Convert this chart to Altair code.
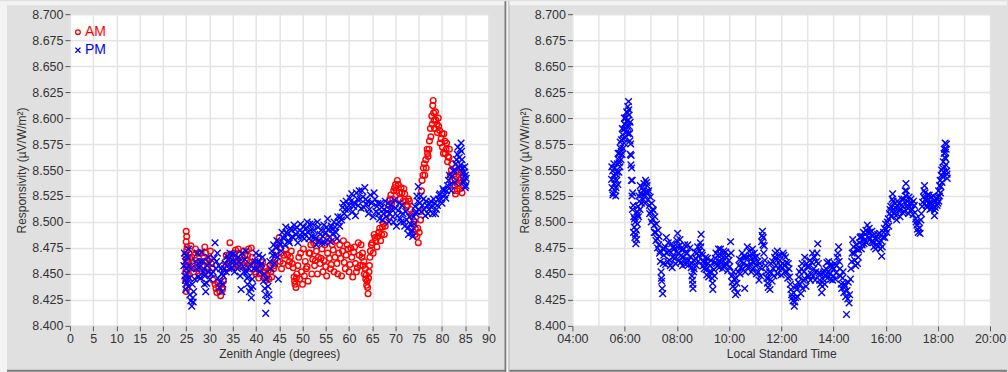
import altair as alt
import pandas as pd

# ---------------- data ----------------
# Right panel: local standard time (hours) vs responsivity
lst_hours = [
    5.50, 5.52, 5.54, 5.56, 5.58, 5.60, 5.62, 5.64, 5.66, 5.68,
    5.70, 5.72, 5.74, 5.76, 5.78, 5.80, 5.82, 5.84, 5.86, 5.88,
    5.90, 5.92, 5.94, 5.96, 5.98, 6.00, 6.02, 6.04, 6.06, 6.08,
    6.10, 6.12, 6.14, 6.15, 6.17, 6.19, 6.21, 6.23, 6.25, 6.27,
    6.29, 6.31, 6.33, 6.35, 6.37, 6.39, 6.41, 6.43, 6.45, 6.47,
    6.49, 6.51, 6.53, 6.56, 6.59, 6.62, 6.65, 6.68, 6.71, 6.74,
    6.77, 6.80, 6.83, 6.86, 6.89, 6.92, 6.95, 6.98, 7.01, 7.04,
    7.07, 7.10, 7.13, 7.16, 7.19, 7.22, 7.25, 7.28, 7.31, 7.34,
    7.37, 7.40, 7.42, 7.44, 7.46,
    7.50, 7.55, 7.60, 7.65, 7.70, 7.75, 7.80, 7.85, 7.90, 7.95,
    8.00, 8.03, 8.06, 8.10, 8.15, 8.20, 8.25, 8.30, 8.35, 8.40,
    8.45, 8.50, 8.55, 8.58, 8.61, 8.64, 8.67, 8.70, 8.75, 8.80,
    8.85, 8.90, 8.93, 8.96, 9.00, 9.05, 9.10, 9.15, 9.20, 9.25,
    9.30, 9.35, 9.38, 9.42, 9.46, 9.50, 9.55, 9.60, 9.65, 9.70,
    9.75, 9.80, 9.85, 9.90, 9.95, 10.00, 10.06, 10.10, 10.15, 10.20,
    10.25, 10.30, 10.35, 10.40, 10.45, 10.50, 10.55, 10.60, 10.65, 10.70,
    10.75, 10.80, 10.85, 10.90, 10.95, 11.00, 11.05, 11.10, 11.15, 11.20,
    11.25, 11.28, 11.31, 11.35, 11.40, 11.45, 11.50, 11.55, 11.60, 11.65,
    11.70, 11.75, 11.80, 11.85, 11.90, 11.95, 12.00, 12.05, 12.10, 12.15,
    12.20, 12.25, 12.30, 12.35, 12.40, 12.45, 12.50, 12.55, 12.60, 12.65,
    12.70, 12.75, 12.80, 12.85, 12.90, 12.95, 13.00, 13.05, 13.10, 13.15,
    13.20, 13.25, 13.30, 13.35, 13.40, 13.45, 13.50, 13.55, 13.60, 13.65,
    13.70, 13.75, 13.80, 13.85, 13.90, 13.95, 14.00, 14.05, 14.10, 14.15,
    14.20, 14.25, 14.30, 14.35, 14.40, 14.45, 14.50, 14.55, 14.60, 14.65,
    14.70, 14.74, 14.80, 14.85, 14.90, 14.95, 15.00, 15.05, 15.10, 15.15,
    15.20, 15.25, 15.30, 15.35, 15.40, 15.45, 15.50, 15.55, 15.60, 15.65,
    15.70, 15.75, 15.80, 15.85, 15.90, 15.95, 16.00, 16.05, 16.10, 16.15,
    16.20, 16.25, 16.27, 16.30, 16.35, 16.40, 16.45, 16.50, 16.55, 16.60,
    16.65, 16.70, 16.75, 16.78, 16.82, 16.86, 16.90, 16.95, 17.00, 17.05,
    17.10, 17.15, 17.20, 17.25, 17.30, 17.35, 17.40, 17.45, 17.49, 17.53,
    17.57, 17.61, 17.65, 17.70, 17.75, 17.80, 17.85, 17.87, 17.90, 17.95,
    18.00, 18.03, 18.06, 18.09, 18.12, 18.15, 18.18, 18.21, 18.24, 18.26,
    18.28, 18.30, 18.32, 18.34, 18.36,
]
lst_resp = [
    8.541, 8.533, 8.549, 8.528, 8.545, 8.537, 8.552, 8.530, 8.525, 8.546,
    8.540, 8.556, 8.536, 8.560, 8.548, 8.566, 8.553, 8.571, 8.560, 8.579,
    8.565, 8.584, 8.571, 8.589, 8.576, 8.594, 8.581, 8.600, 8.586, 8.606,
    8.592, 8.611, 8.598, 8.616, 8.603, 8.585, 8.596, 8.575, 8.564, 8.552,
    8.540, 8.528, 8.516, 8.505, 8.495, 8.485, 8.500, 8.479, 8.492, 8.510,
    8.498, 8.515, 8.505, 8.520, 8.512, 8.528, 8.518, 8.533, 8.522, 8.537,
    8.526, 8.540, 8.529, 8.535, 8.521, 8.530, 8.516, 8.524, 8.510, 8.518,
    8.503, 8.511, 8.497, 8.505, 8.490, 8.498, 8.484, 8.492, 8.478, 8.470,
    8.462, 8.452, 8.443, 8.436, 8.431,
    8.468, 8.476, 8.485, 8.462, 8.472, 8.458, 8.479, 8.466, 8.474, 8.460,
    8.482, 8.489, 8.470, 8.477, 8.461, 8.473, 8.466, 8.478, 8.459, 8.470,
    8.463, 8.475, 8.456, 8.448, 8.440, 8.452, 8.463, 8.471, 8.458, 8.476,
    8.467, 8.480, 8.488, 8.470, 8.462, 8.455, 8.466, 8.449, 8.460, 8.452,
    8.463, 8.446, 8.435, 8.454, 8.461, 8.470, 8.458, 8.474, 8.462, 8.468,
    8.455, 8.472, 8.460, 8.466, 8.453, 8.463, 8.481, 8.448, 8.438, 8.445,
    8.430, 8.441, 8.452, 8.464, 8.456, 8.470, 8.460, 8.436, 8.466, 8.476,
    8.457, 8.468, 8.452, 8.474, 8.461, 8.466, 8.450, 8.462, 8.444, 8.456,
    8.481, 8.491, 8.485, 8.477, 8.458, 8.446, 8.437, 8.452, 8.460, 8.443,
    8.455, 8.466, 8.458, 8.472, 8.455, 8.463, 8.449, 8.460, 8.468, 8.452,
    8.461, 8.446, 8.455, 8.440, 8.430, 8.424, 8.419, 8.427, 8.435, 8.442,
    8.452, 8.431, 8.460, 8.444, 8.466, 8.438, 8.457, 8.447, 8.463, 8.450,
    8.470, 8.455, 8.444, 8.462, 8.479, 8.451, 8.440, 8.432, 8.445, 8.453,
    8.448, 8.461, 8.452, 8.458, 8.445, 8.456, 8.448, 8.460, 8.451, 8.466,
    8.476, 8.455, 8.440, 8.446, 8.432, 8.438, 8.411, 8.426, 8.422, 8.445,
    8.462, 8.483, 8.470, 8.458, 8.474, 8.466, 8.480, 8.486, 8.478, 8.490,
    8.483, 8.492, 8.497, 8.485, 8.490, 8.481, 8.487, 8.476, 8.484, 8.478,
    8.488, 8.480, 8.474, 8.467, 8.485, 8.494, 8.498, 8.490, 8.503, 8.508,
    8.515, 8.522, 8.527, 8.512, 8.518, 8.506, 8.520, 8.511, 8.505, 8.516,
    8.509, 8.522, 8.530, 8.537, 8.520, 8.513, 8.524, 8.511, 8.518, 8.507,
    8.516, 8.503, 8.497, 8.490, 8.494, 8.502, 8.515, 8.524, 8.535, 8.522,
    8.516, 8.526, 8.518, 8.512, 8.524, 8.516, 8.520, 8.506, 8.514, 8.523,
    8.518, 8.530, 8.525, 8.540, 8.534, 8.550, 8.544, 8.558, 8.566, 8.553,
    8.576, 8.561, 8.570, 8.549, 8.542,
]
# second pass of readings in between the first ones
lst_hours_b = [
    5.51, 5.55, 5.59, 5.63, 5.67, 5.71, 5.75, 5.79, 5.83, 5.87,
    5.91, 5.95, 5.99, 6.03, 6.07, 6.11, 6.13, 6.16, 6.18, 6.20,
    6.22, 6.24, 6.26, 6.28, 6.30, 6.34, 6.38, 6.42, 6.46, 6.50,
    6.55, 6.60, 6.66, 6.72, 6.78, 6.84, 6.90, 6.96, 7.02, 7.08,
    7.14, 7.20, 7.26, 7.32, 7.36, 7.41, 7.48,
    7.52, 7.57, 7.62, 7.67, 7.72, 7.77, 7.82, 7.87, 7.92, 7.97,
    8.02, 8.08, 8.12, 8.17, 8.22, 8.27, 8.32, 8.37, 8.42, 8.47,
    8.52, 8.57, 8.60, 8.62, 8.66, 8.72, 8.77, 8.82, 8.87, 8.92,
    8.98, 9.02, 9.07, 9.12, 9.17, 9.22, 9.27, 9.32, 9.37, 9.44,
    9.48, 9.52, 9.57, 9.62, 9.67, 9.72, 9.77, 9.82, 9.87, 9.92,
    9.97, 10.03, 10.08, 10.12, 10.17, 10.22, 10.27, 10.32, 10.38, 10.42,
    10.47, 10.52, 10.57, 10.62, 10.67, 10.72, 10.77, 10.82, 10.87, 10.92,
    10.97, 11.02, 11.07, 11.12, 11.17, 11.22, 11.27, 11.30, 11.33, 11.37,
    11.42, 11.47, 11.52, 11.57, 11.62, 11.67, 11.72, 11.77, 11.82, 11.87,
    11.92, 11.97, 12.02, 12.07, 12.12, 12.17, 12.22, 12.27, 12.32, 12.37,
    12.42, 12.47, 12.52, 12.57, 12.62, 12.67, 12.72, 12.77, 12.82, 12.87,
    12.92, 12.97, 13.02, 13.07, 13.12, 13.17, 13.22, 13.27, 13.32, 13.37,
    13.42, 13.47, 13.52, 13.57, 13.62, 13.67, 13.72, 13.77, 13.82, 13.87,
    13.92, 13.97, 14.02, 14.07, 14.12, 14.17, 14.22, 14.27, 14.32, 14.37,
    14.42, 14.47, 14.52, 14.57, 14.62, 14.67, 14.72, 14.77, 14.82, 14.87,
    14.92, 14.97, 15.02, 15.07, 15.12, 15.17, 15.22, 15.27, 15.32, 15.37,
    15.42, 15.47, 15.52, 15.57, 15.62, 15.67, 15.72, 15.77, 15.82, 15.87,
    15.92, 15.97, 16.02, 16.07, 16.12, 16.17, 16.22, 16.29, 16.32, 16.37,
    16.42, 16.47, 16.52, 16.57, 16.62, 16.67, 16.72, 16.77, 16.80, 16.84,
    16.88, 16.92, 16.97, 17.02, 17.07, 17.12, 17.17, 17.22, 17.27, 17.32,
    17.37, 17.42, 17.47, 17.51, 17.55, 17.59, 17.63, 17.67, 17.72, 17.77,
    17.82, 17.88, 17.92, 17.97, 18.01, 18.04, 18.07, 18.10, 18.13, 18.16,
    18.19, 18.22, 18.25, 18.27, 18.29, 18.31, 18.33, 18.35,
]
lst_resp_b = [
    8.553, 8.526, 8.556, 8.541, 8.533, 8.548, 8.566, 8.557, 8.577, 8.568,
    8.590, 8.580, 8.600, 8.590, 8.597, 8.605, 8.585, 8.608, 8.592, 8.578,
    8.565, 8.555, 8.540, 8.525, 8.512, 8.490, 8.503, 8.488, 8.483, 8.507,
    8.525, 8.535, 8.526, 8.530, 8.518, 8.538, 8.528, 8.508, 8.500, 8.512,
    8.490, 8.482, 8.475, 8.486, 8.472, 8.446, 8.460,
    8.474, 8.459, 8.470, 8.480, 8.463, 8.471, 8.456, 8.476, 8.465, 8.471,
    8.476, 8.463, 8.483, 8.468, 8.458, 8.474, 8.463, 8.470, 8.478, 8.459,
    8.466, 8.460, 8.444, 8.436, 8.455, 8.465, 8.470, 8.462, 8.472, 8.476,
    8.468, 8.458, 8.461, 8.454, 8.465, 8.447, 8.458, 8.452, 8.441, 8.448,
    8.465, 8.460, 8.468, 8.456, 8.474, 8.461, 8.466, 8.458, 8.471, 8.459,
    8.468, 8.457, 8.470, 8.442, 8.452, 8.436, 8.446, 8.432, 8.458, 8.450,
    8.463, 8.455, 8.467, 8.452, 8.458, 8.466, 8.472, 8.460, 8.465, 8.455,
    8.470, 8.458, 8.467, 8.452, 8.460, 8.448, 8.487, 8.478, 8.470, 8.463,
    8.452, 8.441, 8.446, 8.435, 8.451, 8.462, 8.448, 8.470, 8.463, 8.450,
    8.468, 8.458, 8.455, 8.470, 8.458, 8.466, 8.452, 8.460, 8.447, 8.435,
    8.427, 8.432, 8.423, 8.438, 8.428, 8.447, 8.440, 8.455, 8.436, 8.452,
    8.445, 8.460, 8.449, 8.457, 8.444, 8.461, 8.448, 8.466, 8.452, 8.470,
    8.460, 8.444, 8.450, 8.438, 8.451, 8.440, 8.455, 8.446, 8.462, 8.450,
    8.458, 8.444, 8.455, 8.445, 8.458, 8.470, 8.462, 8.448, 8.436, 8.452,
    8.440, 8.428, 8.434, 8.442, 8.430, 8.455, 8.470, 8.476, 8.463, 8.478,
    8.460, 8.473, 8.485, 8.474, 8.486, 8.479, 8.488, 8.480, 8.490, 8.494,
    8.484, 8.491, 8.480, 8.488, 8.474, 8.483, 8.477, 8.489, 8.482, 8.476,
    8.490, 8.485, 8.493, 8.500, 8.496, 8.512, 8.505, 8.520, 8.509, 8.514,
    8.502, 8.515, 8.518, 8.512, 8.522, 8.515, 8.510, 8.525, 8.530, 8.516,
    8.508, 8.518, 8.522, 8.512, 8.520, 8.509, 8.500, 8.493, 8.500, 8.489,
    8.508, 8.519, 8.530, 8.528, 8.520, 8.514, 8.522, 8.526, 8.518, 8.513,
    8.525, 8.511, 8.520, 8.516, 8.524, 8.520, 8.535, 8.528, 8.545, 8.538,
    8.552, 8.548, 8.570, 8.562, 8.567, 8.555, 8.575, 8.546,
]

# Left panel, AM (red circles): zenith angle vs responsivity
am_zenith = [
    25.0, 25.1, 25.0, 25.2, 24.9, 25.1, 25.0, 25.3, 24.9, 25.2, 25.0, 25.5, 25.6,
    26.2, 26.6, 27.0, 27.4, 27.8, 28.2, 28.6, 29.0, 29.4, 29.8, 30.2, 30.6,
    31.2, 31.6, 32.0, 32.4, 32.8, 33.0,
    33.4, 33.8, 34.2, 34.4, 34.8,
    35.4, 35.8, 36.2, 36.6, 37.0, 37.4, 37.8, 38.2, 38.6, 39.0, 39.4,
    39.8, 40.2, 40.6, 41.0, 41.4, 41.8, 42.2, 42.6, 43.0, 43.4, 43.8,
    44.2, 44.6, 45.0, 45.4, 45.8, 45.5,
    46.8, 47.2, 47.6, 48.0, 48.2, 48.4, 48.6, 48.8, 49.2, 49.6,
    50.2, 50.6, 51.0, 51.4, 51.8, 52.2, 52.6, 53.0, 53.4, 53.8,
    54.2, 54.6, 55.0, 55.4, 55.8, 56.2, 56.6, 57.0, 57.4, 57.8,
    58.2, 58.6, 59.0, 59.4, 59.8, 60.2, 60.6, 61.0, 61.4, 61.8, 62.2,
    62.6, 62.9, 63.2, 63.5, 63.7, 63.9, 64.0, 64.1, 64.3, 64.5,
    64.8, 65.2, 65.6, 66.0, 66.4, 66.8, 67.2, 67.6, 68.0,
    68.4, 68.8, 69.2, 69.6, 70.0, 70.4, 70.8, 71.2, 71.6, 72.0, 72.4, 72.8, 73.2,
    73.6, 74.0, 74.3, 74.6, 74.9, 75.1, 75.4,
    75.7, 76.0, 76.3, 76.5, 76.8, 77.0, 77.3,
    77.5, 77.8, 78.0, 78.1, 78.3, 78.6, 78.9, 79.2, 79.5,
    79.8, 80.1, 80.4, 80.7, 81.0, 81.3, 81.6,
    82.0, 82.3, 82.6, 82.9, 83.2, 83.5, 83.8, 84.1, 84.4,
]
am_resp = [
    8.491, 8.486, 8.481, 8.476, 8.468, 8.462, 8.455, 8.449, 8.443, 8.437, 8.433, 8.458, 8.470,
    8.466, 8.452, 8.474, 8.460, 8.448, 8.470, 8.458, 8.476, 8.463, 8.450, 8.472, 8.456,
    8.440, 8.432, 8.437, 8.429, 8.435, 8.443,
    8.462, 8.455, 8.468, 8.480, 8.458,
    8.470, 8.462, 8.474, 8.458, 8.466, 8.472, 8.456, 8.468, 8.461, 8.475, 8.459,
    8.452, 8.460, 8.446, 8.455, 8.461, 8.448, 8.444, 8.453, 8.458, 8.447, 8.455,
    8.465, 8.478, 8.485, 8.470, 8.460, 8.455,
    8.468, 8.462, 8.472, 8.456, 8.447, 8.440, 8.437, 8.450, 8.466, 8.470,
    8.474, 8.462, 8.457, 8.470, 8.478, 8.464, 8.458, 8.472, 8.466, 8.460,
    8.474, 8.463, 8.457, 8.470, 8.465, 8.459, 8.473, 8.466, 8.460, 8.470,
    8.465, 8.472, 8.461, 8.468, 8.474, 8.459, 8.466, 8.471, 8.460, 8.456, 8.468,
    8.478, 8.470, 8.462, 8.455, 8.449, 8.443, 8.437, 8.431, 8.452, 8.466,
    8.478, 8.470, 8.485, 8.476, 8.490, 8.482, 8.495, 8.488, 8.502,
    8.512, 8.522, 8.518, 8.530, 8.536, 8.540, 8.528, 8.533, 8.520, 8.527, 8.515, 8.522, 8.512,
    8.508, 8.500, 8.493, 8.486, 8.480, 8.490, 8.502,
    8.540, 8.552, 8.545, 8.560, 8.570, 8.563, 8.578,
    8.590, 8.602, 8.612, 8.617, 8.598, 8.606, 8.594, 8.600, 8.588,
    8.580, 8.572, 8.585, 8.566, 8.576, 8.563, 8.570,
    8.550, 8.540, 8.546, 8.527, 8.537, 8.548, 8.532, 8.542, 8.535,
]
am_zenith_b = [
    25.1, 25.3, 25.4, 24.9, 26.0, 26.4, 26.8, 27.2, 27.6, 28.0,
    28.4, 28.8, 29.2, 29.6, 30.0, 30.4, 30.8, 31.4, 31.8, 32.2,
    32.6, 33.2, 33.6, 34.0, 34.6, 35.0, 35.2, 35.6, 36.0, 36.4,
    36.8, 37.2, 37.6, 38.0, 38.4, 38.8, 39.2, 39.6, 40.0, 40.4,
    40.8, 41.2, 41.6, 42.0, 42.4, 42.8, 43.2, 43.6, 44.0, 44.4,
    44.8, 45.2, 46.0, 46.4, 47.0, 47.4, 47.8, 48.3, 48.7, 49.0,
    49.4, 49.8, 50.0, 50.4, 50.8, 51.2, 51.6, 52.0, 52.4, 52.8,
    53.2, 53.6, 54.0, 54.4, 54.8, 55.2, 55.6, 56.0, 56.4, 56.8,
    57.2, 57.6, 58.0, 58.4, 58.8, 59.2, 59.6, 60.0, 60.4, 60.8,
    61.2, 61.6, 62.0, 62.4, 62.8, 63.0, 63.3, 63.6, 63.8, 64.2,
    64.4, 64.6, 65.0, 65.4, 65.8, 66.2, 66.6, 67.0, 67.4, 67.8,
    68.2, 68.6, 69.0, 69.4, 69.8, 70.2, 70.6, 71.0, 71.4, 71.8,
    72.2, 72.6, 73.0, 73.4, 73.8, 74.2, 74.8, 75.3, 75.6, 75.9,
    76.2, 76.6, 76.9, 77.2, 77.6, 77.9, 78.2, 78.4, 78.7, 79.0,
    79.3, 79.6, 80.0, 80.3, 80.6, 80.9, 81.2, 81.5, 81.8, 82.1,
    82.4, 82.8, 83.0, 83.3, 83.7, 84.0, 84.3, 84.6,
]
am_resp_b = [
    8.473, 8.445, 8.465, 8.452, 8.477, 8.460, 8.468, 8.455, 8.470, 8.462,
    8.452, 8.466, 8.470, 8.457, 8.465, 8.460, 8.444, 8.436, 8.442, 8.433,
    8.440, 8.452, 8.468, 8.460, 8.465, 8.457, 8.466, 8.473, 8.460, 8.468,
    8.463, 8.458, 8.468, 8.463, 8.474, 8.455, 8.466, 8.458, 8.450, 8.456,
    8.450, 8.458, 8.452, 8.456, 8.449, 8.445, 8.452, 8.460, 8.458, 8.472,
    8.480, 8.462, 8.468, 8.474, 8.458, 8.466, 8.460, 8.443, 8.446, 8.458,
    8.445, 8.452, 8.440, 8.448, 8.455, 8.443, 8.470, 8.450, 8.480, 8.463,
    8.450, 8.482, 8.465, 8.452, 8.478, 8.448, 8.484, 8.455, 8.478, 8.452,
    8.482, 8.450, 8.478, 8.448, 8.482, 8.455, 8.478, 8.452, 8.475, 8.447,
    8.476, 8.452, 8.480, 8.458, 8.466, 8.458, 8.450, 8.445, 8.439, 8.446,
    8.458, 8.472, 8.480, 8.488, 8.482, 8.486, 8.494, 8.488, 8.498, 8.496,
    8.508, 8.516, 8.526, 8.522, 8.533, 8.530, 8.536, 8.522, 8.528, 8.532,
    8.520, 8.516, 8.520, 8.506, 8.498, 8.488, 8.494, 8.510, 8.530, 8.545,
    8.556, 8.552, 8.566, 8.570, 8.582, 8.594, 8.605, 8.590, 8.598, 8.586,
    8.592, 8.576, 8.585, 8.566, 8.578, 8.570, 8.558, 8.562, 8.545, 8.556,
    8.535, 8.541, 8.548, 8.530, 8.540, 8.550, 8.528, 8.544,
]

# Left panel, PM (blue crosses): zenith angle vs responsivity
pm_zenith = [
    24.6, 24.8, 25.0, 24.7, 25.1, 24.9, 25.3, 25.6, 25.8, 26.0, 26.2, 26.4, 26.6, 25.5,
    27.2, 27.6, 28.0, 28.3, 28.6, 28.9, 29.2, 29.5, 29.8, 30.1,
    30.8, 31.2, 31.5, 31.8, 32.1, 32.4, 32.7, 33.0,
    33.4, 33.8, 34.2, 34.6, 35.0, 35.4, 35.8, 36.2, 36.6, 36.8, 37.2, 37.6, 38.0, 38.4, 38.8,
    38.2, 38.6, 39.0, 39.3,
    39.8, 40.2, 40.6, 41.0, 41.4,
    41.6, 41.9, 42.1, 42.4, 42.6, 42.1,
    43.2, 43.6, 44.0, 44.3, 44.6, 44.8, 45.0, 45.4, 45.8,
    46.2, 46.6, 47.0, 47.4, 47.8, 48.2, 48.6, 49.0, 49.4,
    49.8, 50.2, 50.6, 51.0, 51.4, 51.8, 52.2,
    52.6, 53.0, 53.4, 53.8, 54.2, 54.6, 55.0, 55.4, 55.8, 56.2, 56.6,
    57.0, 57.4, 57.8,
    58.2, 58.6, 59.0, 59.4, 59.8, 60.2, 60.6, 61.0,
    61.4, 61.8, 62.2, 62.6, 63.0, 63.4, 63.8, 64.2, 64.6, 65.0, 65.4,
    65.8, 66.2, 66.6, 67.0, 67.4, 67.8,
    68.2, 68.6, 69.0, 69.4, 69.8, 70.2, 70.6, 71.0, 71.4,
    71.8, 72.2, 72.6, 73.0, 73.4, 73.7, 74.0, 74.3,
    74.6, 74.9, 75.2, 75.6, 76.0, 76.4, 76.8, 77.2, 77.6, 78.0, 78.4, 78.8, 79.2,
    79.6, 80.0, 80.4, 80.8,
    81.2, 81.6, 82.0, 82.4, 82.8,
    83.0, 83.3, 83.6, 83.9, 84.1, 84.3, 84.5,
    84.7, 84.9, 85.1, 85.0,
]
pm_resp = [
    8.470, 8.462, 8.455, 8.448, 8.441, 8.435, 8.466, 8.458, 8.430, 8.424, 8.419, 8.427, 8.433, 8.474,
    8.455, 8.447, 8.462, 8.471, 8.452, 8.440, 8.433, 8.458, 8.466, 8.445,
    8.452, 8.480, 8.462, 8.446, 8.437, 8.455, 8.433, 8.448,
    8.460, 8.467, 8.455, 8.462, 8.469, 8.452, 8.460, 8.466, 8.448, 8.435, 8.457, 8.464, 8.452, 8.447, 8.459,
    8.440, 8.433, 8.427, 8.438,
    8.462, 8.455, 8.468, 8.458, 8.466,
    8.443, 8.436, 8.430, 8.424, 8.438, 8.412,
    8.455, 8.468, 8.460, 8.475, 8.466, 8.445, 8.480, 8.472, 8.485,
    8.478, 8.490, 8.482, 8.494, 8.486, 8.497, 8.488, 8.480, 8.492,
    8.486, 8.495, 8.488, 8.500, 8.484, 8.492, 8.498,
    8.486, 8.478, 8.495, 8.488, 8.480, 8.497, 8.490, 8.503, 8.485, 8.496, 8.489,
    8.495, 8.484, 8.500,
    8.505, 8.514, 8.508, 8.520, 8.512, 8.523, 8.527, 8.515,
    8.506, 8.522, 8.530, 8.513, 8.524, 8.533, 8.517, 8.508, 8.526, 8.519, 8.528,
    8.510, 8.518, 8.503, 8.514, 8.508, 8.520,
    8.510, 8.500, 8.516, 8.505, 8.521, 8.496, 8.511, 8.503, 8.516,
    8.500, 8.510, 8.494, 8.505, 8.490, 8.486, 8.498, 8.508,
    8.525, 8.534, 8.518, 8.510, 8.522, 8.506, 8.516, 8.512, 8.520, 8.508, 8.518, 8.512, 8.522,
    8.527, 8.518, 8.530, 8.523,
    8.535, 8.545, 8.530, 8.549, 8.538,
    8.556, 8.565, 8.552, 8.570, 8.576, 8.560, 8.547,
    8.540, 8.553, 8.535, 8.545,
]
pm_zenith_b = [
    24.5, 24.8, 25.0, 25.2, 25.4, 25.7, 26.0, 26.3, 26.5, 26.8,
    27.0, 27.4, 27.8, 28.1, 28.5, 28.8, 29.0, 29.4, 29.7, 30.0,
    30.4, 31.0, 31.4, 31.7, 32.0, 32.3, 32.6, 32.9, 33.2, 33.6,
    34.0, 34.4, 34.8, 35.2, 35.6, 36.0, 36.4, 37.0, 37.4, 37.8,
    38.1, 38.5, 38.9, 39.2, 39.6, 40.0, 40.4, 40.8, 41.2, 41.8,
    42.3, 42.8, 43.0, 43.4, 43.8, 44.2, 44.5, 45.2, 45.6, 46.0,
    46.4, 46.8, 47.2, 47.6, 48.0, 48.4, 48.8, 49.2, 49.6, 50.0,
    50.4, 50.8, 51.2, 51.6, 52.0, 52.4, 52.8, 53.2, 53.6, 54.0,
    54.4, 54.8, 55.2, 55.6, 56.0, 56.4, 56.8, 57.2, 57.6, 58.0,
    58.4, 58.8, 59.2, 59.6, 60.0, 60.4, 60.8, 61.2, 61.6, 62.0,
    62.4, 62.8, 63.2, 63.6, 64.0, 64.4, 64.8, 65.2, 65.6, 66.0,
    66.4, 66.8, 67.2, 67.6, 68.0, 68.4, 68.8, 69.2, 69.6, 70.0,
    70.4, 70.8, 71.2, 71.6, 72.0, 72.4, 72.8, 73.2, 73.5, 73.9,
    74.2, 74.5, 74.8, 75.0, 75.4, 75.8, 76.2, 76.6, 77.0, 77.4,
    77.8, 78.2, 78.6, 79.0, 79.4, 79.8, 80.2, 80.6, 81.0, 81.4,
    81.8, 82.2, 82.6, 83.1, 83.4, 83.7, 84.0, 84.2, 84.4, 84.6,
    84.8, 85.0, 85.2,
]
pm_resp_b = [
    8.458, 8.444, 8.468, 8.450, 8.438, 8.446, 8.455, 8.440, 8.423, 8.445,
    8.462, 8.470, 8.456, 8.446, 8.462, 8.455, 8.448, 8.441, 8.452, 8.460,
    8.450, 8.465, 8.455, 8.470, 8.458, 8.442, 8.450, 8.440, 8.455, 8.452,
    8.464, 8.470, 8.456, 8.462, 8.468, 8.455, 8.462, 8.470, 8.452, 8.472,
    8.446, 8.455, 8.436, 8.445, 8.455, 8.470, 8.462, 8.452, 8.460, 8.450,
    8.445, 8.430, 8.462, 8.472, 8.478, 8.468, 8.482, 8.478, 8.490, 8.484,
    8.495, 8.488, 8.480, 8.492, 8.485, 8.493, 8.495, 8.486, 8.498, 8.490,
    8.484, 8.494, 8.490, 8.498, 8.486, 8.492, 8.484, 8.500, 8.482, 8.492,
    8.486, 8.480, 8.495, 8.492, 8.481, 8.493, 8.500, 8.490, 8.505, 8.496,
    8.502, 8.518, 8.512, 8.505, 8.516, 8.520, 8.510, 8.518, 8.528, 8.516,
    8.522, 8.530, 8.514, 8.522, 8.520, 8.512, 8.518, 8.505, 8.522, 8.515,
    8.508, 8.518, 8.502, 8.512, 8.505, 8.518, 8.508, 8.512, 8.500, 8.513,
    8.506, 8.518, 8.500, 8.508, 8.496, 8.502, 8.488, 8.498, 8.492, 8.505,
    8.515, 8.510, 8.520, 8.512, 8.525, 8.516, 8.512, 8.520, 8.508, 8.518,
    8.514, 8.522, 8.508, 8.516, 8.526, 8.522, 8.532, 8.526, 8.530, 8.540,
    8.536, 8.544, 8.550, 8.560, 8.572, 8.562, 8.555, 8.568, 8.552, 8.538,
    8.548, 8.533, 8.542,
]

resp_ticks = [8.400, 8.425, 8.450, 8.475, 8.500, 8.525, 8.550, 8.575,
              8.600, 8.625, 8.650, 8.675, 8.700]
zenith_ticks = [0, 5, 10, 15, 20, 25, 30, 35, 40, 45, 50, 55, 60, 65, 70, 75, 80, 85, 90]
hour_ticks = [4, 5, 6, 7, 8, 9, 10, 11, 12, 13, 14, 15, 16, 17, 18, 19, 20]
legend_labels = ["AM", "PM"]
y_title = "Responsivity (µV/W/m²)"

# ---------------- styling ----------------
W1, W2, H = 419, 418, 312
RED = "#ff0000"
BLUE = "#0000ff"
X_SHAPE = "M-1,-1L1,1M-1,1L1,-1"
EDGE = "#f3f3f3"
DARK = "#7c7c7c"

am_df = pd.DataFrame({"zen": am_zenith + am_zenith_b, "resp": am_resp + am_resp_b})
pm_df = pd.DataFrame({"zen": pm_zenith + pm_zenith_b, "resp": pm_resp + pm_resp_b})
lst_df = pd.DataFrame({"hour": lst_hours + lst_hours_b, "resp": lst_resp + lst_resp_b})
one = pd.DataFrame({"d": [0]})

y_enc = alt.Y("resp:Q",
              scale=alt.Scale(domain=[8.4, 8.7], nice=False, zero=False),
              axis=alt.Axis(values=resp_ticks, format=".3f", title=y_title))

x_zen = alt.X("zen:Q",
              scale=alt.Scale(domain=[0, 90], nice=False, zero=False),
              axis=alt.Axis(values=zenith_ticks, title="Zenith Angle (degrees)",
                            labelFlush=False, labelOverlap=False))

x_hour = alt.X("hour:Q",
               scale=alt.Scale(domain=[4, 20], nice=False, zero=False),
               axis=alt.Axis(values=hour_ticks, title="Local Standard Time",
                             labelFlush=False, labelOverlap=False,
                             labelExpr="datum.value % 2 == 0 ? ((datum.value < 10 ? '0' : '') + datum.value + ':00') : ''",
                             tickOpacity={"condition": {"test": "datum.value % 2 == 1", "value": 0}, "value": 1}))

am_pts = alt.Chart(am_df).mark_point(shape="circle", filled=False, color=RED,
                                     size=32, strokeWidth=1.4, opacity=1).encode(x=x_zen, y=y_enc)
pm_pts = alt.Chart(pm_df).mark_point(shape=X_SHAPE, filled=False, color=BLUE,
                                     size=44, strokeWidth=1.4, opacity=1).encode(x=x_zen, y=y_enc)

leg_df = pd.DataFrame({"label": legend_labels})
leg_am_sym = alt.Chart(leg_df.iloc[[0]]).mark_point(shape="circle", filled=False, color=RED,
                                                    size=22, strokeWidth=1.3, opacity=1).encode(
    x=alt.value(8), y=alt.value(18))
leg_pm_sym = alt.Chart(leg_df.iloc[[1]]).mark_point(shape=X_SHAPE, filled=False, color=BLUE,
                                                    size=26, strokeWidth=1.3, opacity=1).encode(
    x=alt.value(8), y=alt.value(36))
leg_am_txt = alt.Chart(leg_df.iloc[[0]]).mark_text(align="left", baseline="middle", color=RED,
                                                   font="Liberation Sans", fontSize=14).encode(
    x=alt.value(15), y=alt.value(18), text="label:N")
leg_pm_txt = alt.Chart(leg_df.iloc[[1]]).mark_text(align="left", baseline="middle", color=BLUE,
                                                   font="Liberation Sans", fontSize=14).encode(
    x=alt.value(15), y=alt.value(36), text="label:N")

# panel frame decorations (left chart origin at plot area's top-left)
l_edge_left = alt.Chart(one).mark_rect(color=EDGE).encode(
    x=alt.value(-70), x2=alt.value(-63), y=alt.value(-13), y2=alt.value(359))
l_edge_top = alt.Chart(one).mark_rect(color=EDGE).encode(
    x=alt.value(-63), x2=alt.value(435), y=alt.value(-13), y2=alt.value(-9))
l_right = alt.Chart(one).mark_rule(color=DARK, strokeWidth=2).encode(
    x=alt.value(436), y=alt.value(-13), y2=alt.value(359))
l_bottom = alt.Chart(one).mark_rule(color=DARK, strokeWidth=2).encode(
    x=alt.value(-63), x2=alt.value(436), y=alt.value(357))

left = alt.layer(l_edge_left, l_edge_top, l_right, l_bottom,
                 am_pts, pm_pts,
                 leg_am_sym, leg_pm_sym, leg_am_txt, leg_pm_txt).properties(width=W1, height=H)

lst_pts = alt.Chart(lst_df).mark_point(shape=X_SHAPE, filled=False, color=BLUE,
                                       size=44, strokeWidth=1.4, opacity=1).encode(x=x_hour, y=y_enc)

r_gap = alt.Chart(one).mark_rect(color=EDGE).encode(
    x=alt.value(-66), x2=alt.value(-64), y=alt.value(-13), y2=alt.value(359))
r_line = alt.Chart(one).mark_rule(color="#b4b4b4", strokeWidth=1).encode(
    x=alt.value(-63.5), y=alt.value(-13), y2=alt.value(359))
r_top = alt.Chart(one).mark_rect(color=EDGE).encode(
    x=alt.value(-63), x2=alt.value(435), y=alt.value(-13), y2=alt.value(-9))
r_bottom = alt.Chart(one).mark_rule(color=DARK, strokeWidth=2).encode(
    x=alt.value(-63), x2=alt.value(435), y=alt.value(357))

right = alt.layer(r_gap, r_line, r_top, r_bottom, lst_pts).properties(width=W2, height=H)

chart = alt.hconcat(left, right, spacing=0).configure(
    background="#e0e0e0", padding=0
).configure_view(
    fill="white", strokeWidth=0
).configure_axis(
    grid=True, gridColor="#e4e4e4", gridWidth=1.5,
    domain=False,
    tickColor="#555555", tickSize=5, tickWidth=1,
    labelFont="Liberation Sans", labelFontSize=12.5, labelColor="#333333", labelPadding=2,
    titleFont="Liberation Sans", titleFontSize=12, titleFontWeight="normal",
    titleColor="#333333", titlePadding=3,
)

chart.save("out.html", embed_options={"renderer": "svg", "actions": False})
